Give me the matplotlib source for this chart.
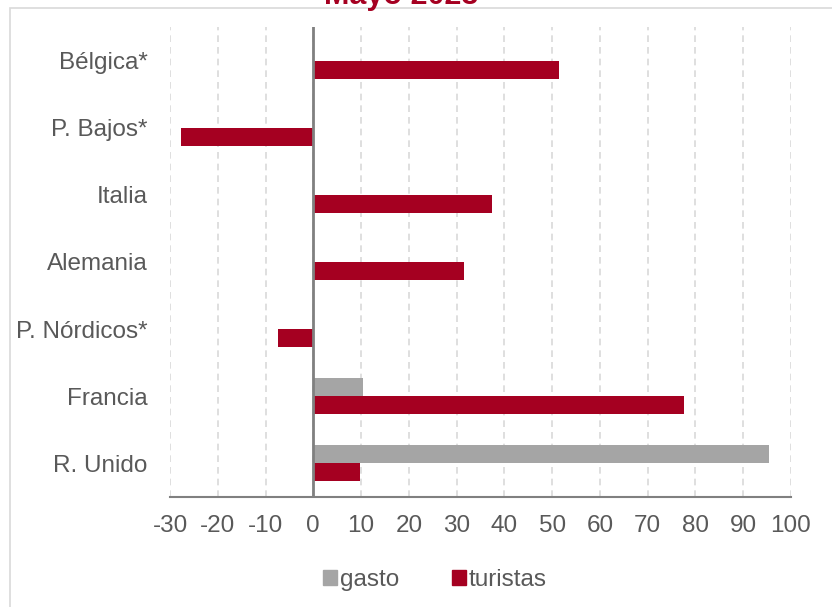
import numpy as np
import matplotlib
matplotlib.use("Agg")
import matplotlib.pyplot as plt
from matplotlib.patches import Rectangle, Patch

plt.rcParams['font.family'] = ['Liberation Sans', 'DejaVu Sans']

# Data (bottom to top)
categories = ["R. Unido", "Francia", "P. Nórdicos*", "Alemania", "Italia", "P. Bajos*", "Bélgica*"]
gasto = [95.3, 10.5, np.nan, np.nan, np.nan, np.nan, np.nan]
turistas = [9.7, 77.6, -7.4, 31.5, 37.5, -27.8, 51.5]
xticks = [-30, -20, -10, 0, 10, 20, 30, 40, 50, 60, 70, 80, 90, 100]
title = "Mayo 2023"

RED = "#A50021"
GREY = "#A5A5A5"
TXT = "#595959"

W, H = 832, 607
fig = plt.figure(figsize=(W / 100, H / 100), dpi=100)

# cropped frame border
fig.patches.append(Rectangle((10 / W, -0.1), 1.2, (H - 8) / H + 0.1, transform=fig.transFigure,
                             fill=False, edgecolor="#D9D9D9", linewidth=1.2, zorder=0))

fig.text(401 / W, 1 - 4 / H, title, ha="center", va="baseline", fontsize=22,
         fontweight="bold", color=RED)

ax = fig.add_axes([170 / W, 110 / H, (791 - 170) / W, (497 - 27) / H])
y = np.arange(len(categories))
h = 0.268
ax.barh(y + h / 2, gasto, height=h, color=GREY, zorder=3, label="gasto")
ax.barh(y - h / 2, turistas, height=h, color=RED, zorder=3, label="turistas")

ax.set_xlim(-30, 100)
ax.set_ylim(-0.5, len(categories) - 0.5)
ax.set_xticks(xticks)
ax.set_xticklabels([str(v) for v in xticks])
ax.set_yticks(y)
ax.set_yticklabels(categories)
ax.tick_params(axis="both", length=0, labelsize=17.5, labelcolor=TXT)
ax.tick_params(axis="x", pad=13)
ax.tick_params(axis="y", pad=16)

ax.grid(axis="x", color="#D9D9D9", linestyle=(0, (4, 3)), linewidth=1.2, zorder=0)
ax.axvline(0, color="#808080", linewidth=2, zorder=4)
for s in ["top", "right", "left"]:
    ax.spines[s].set_visible(False)
ax.spines["bottom"].set_color("#808080")
ax.spines["bottom"].set_linewidth(1.5)

handles = [Patch(color=GREY, label="gasto"), Patch(color=RED, label="turistas")]
fig.legend(handles=handles, loc="center", bbox_to_anchor=(435 / W, 1 - 580 / H), ncol=2,
           frameon=False, fontsize=17.5, handlelength=0.55, handleheight=0.55,
           handletextpad=0.12, columnspacing=2.2, labelcolor=TXT)

fig.savefig("out.png", dpi=100)
